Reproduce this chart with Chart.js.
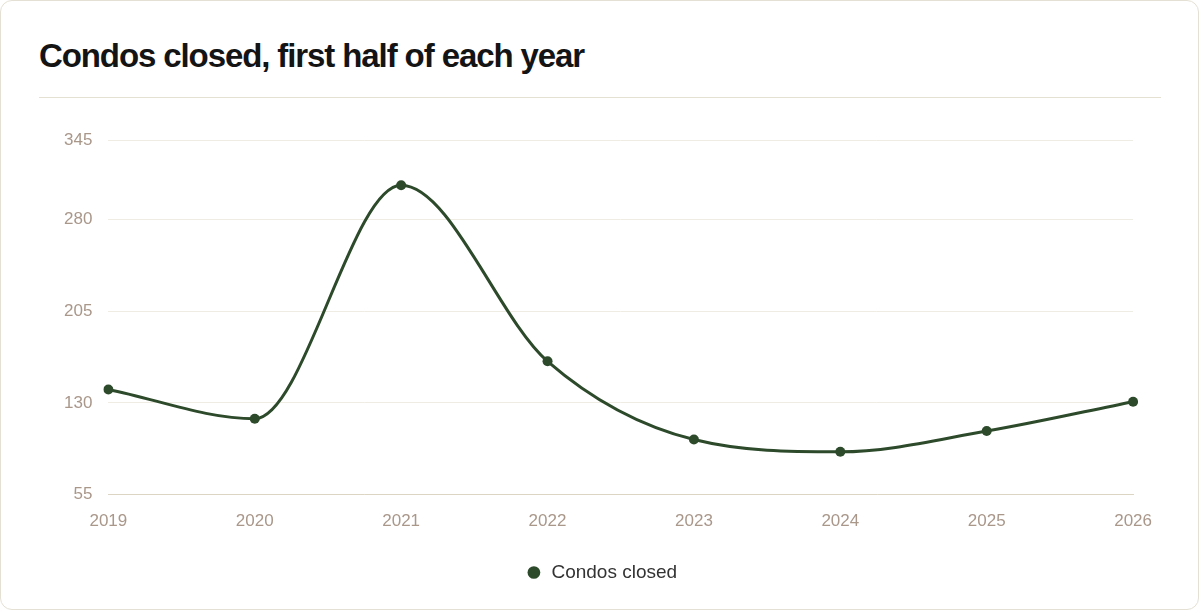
<!DOCTYPE html>
<html>
<head>
<meta charset="utf-8">
<script src="https://cdn.jsdelivr.net/npm/chart.js@4.4.1/dist/chart.umd.min.js"></script>
<style>
  html, body { margin: 0; padding: 0; background: #ffffff; }
  .card {
    position: absolute; left: 0; top: 0;
    width: 1197px; height: 608px;
    border: 1px solid #e4e0d4; border-radius: 12px;
    background: #ffffff; overflow: hidden;
  }
  .card h2 {
    position: absolute; left: 38px; top: 36px; margin: 0;
    font-family: "Liberation Sans", Arial, sans-serif;
    font-weight: 700; font-size: 33px; letter-spacing: -1.1px;
    line-height: 37px; color: #141414;
  }
  .card .rule {
    position: absolute; left: 38px; top: 96px; width: 1122px; height: 1px;
    background: #e4e0d2;
  }
  .chart-box { position: absolute; left: 38px; top: 110px; width: 1130px; height: 492px; }
</style>
</head>
<body>
<div class="card">
  <h2>Condos closed, first half of each year</h2>
  <div class="rule"></div>
  <div class="chart-box"><canvas id="condoChart"></canvas></div>
</div>
<script>
// chart data
const YEARS = ['2019', '2020', '2021', '2022', '2023', '2024', '2025', '2026'];
const CONDOS_CLOSED = [141, 117, 308, 164, 100, 90, 107, 131];
const Y_TICKS = [55, 130, 205, 280, 345];

const GREEN = '#2d4a2b';
const TICK_COLOR = '#a9978a';
const FONT = '"Liberation Sans", Arial, sans-serif';

new Chart(document.getElementById('condoChart'), {
  type: 'line',
  data: {
    labels: YEARS,
    datasets: [{
      label: 'Condos closed',
      data: CONDOS_CLOSED,
      borderColor: GREEN,
      backgroundColor: GREEN,
      borderWidth: 3,
      cubicInterpolationMode: 'monotone',
      pointRadius: 5,
      pointBackgroundColor: GREEN,
      pointBorderWidth: 0,
      fill: false
    }]
  },
  options: {
    responsive: true,
    maintainAspectRatio: false,
    animation: false,
    layout: { padding: { left: 9, right: 14, top: 29, bottom: 11 } },
    plugins: {
      legend: {
        position: 'bottom',
        labels: {
          usePointStyle: true,
          pointStyle: 'circle',
          boxWidth: 16,
          boxHeight: 9,
          padding: 14,
          color: '#333333',
          font: { family: FONT, size: 19 }
        }
      },
      tooltip: { enabled: false }
    },
    scales: {
      x: {
        grid: { display: false, drawTicks: false },
        border: { display: true, color: '#ddd5c4', width: 1 },
        ticks: { color: TICK_COLOR, padding: 17, font: { family: FONT, size: 17 } }
      },
      y: {
        min: Y_TICKS[0],
        max: Y_TICKS[Y_TICKS.length - 1],
        afterBuildTicks: axis => { axis.ticks = Y_TICKS.map(v => ({ value: v })); },
        grid: { color: '#efece4', lineWidth: 1, drawTicks: false },
        border: { display: false },
        ticks: { color: TICK_COLOR, padding: 16, font: { family: FONT, size: 17 } }
      }
    }
  }
});
</script>
</body>
</html>
